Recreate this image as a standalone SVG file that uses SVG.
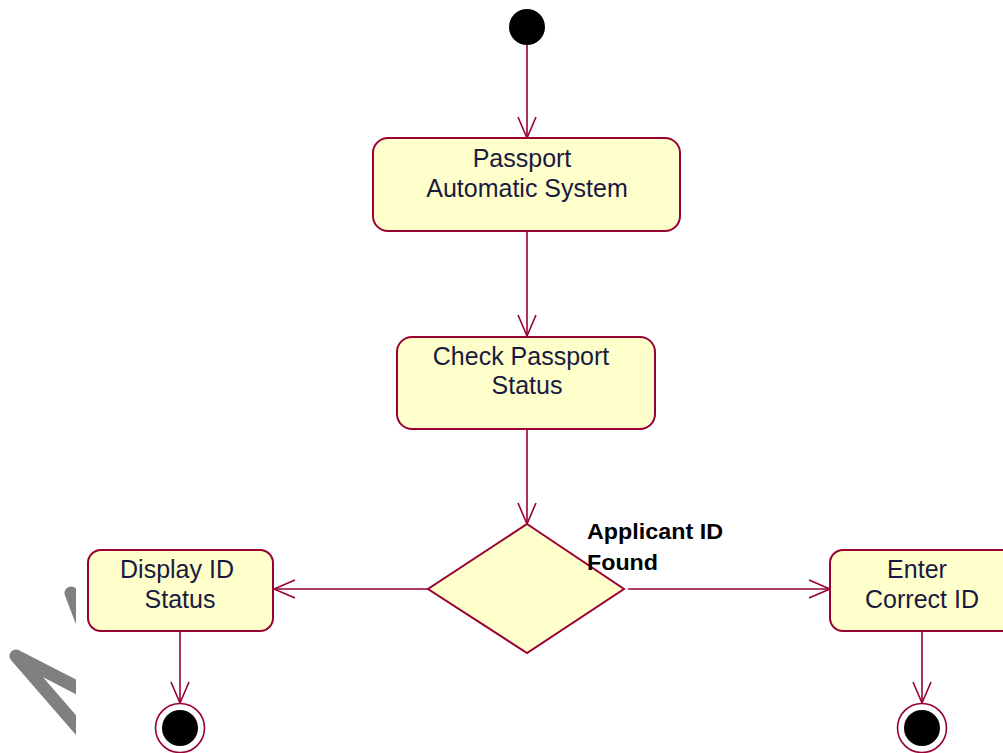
<svg xmlns="http://www.w3.org/2000/svg" width="1003" height="753" viewBox="0 0 1003 753">
<style>
.act{fill:#FFFFCC;stroke:#990033;stroke-width:2}
.lbl{font-family:"Liberation Sans",Arial,sans-serif;font-size:25px;fill:#1a1a40;text-anchor:middle}
.guard{font-family:"Liberation Sans",Arial,sans-serif;font-size:22px;font-weight:bold;fill:#000}
.conn{fill:none;stroke:#990033;stroke-width:1.6}
</style>
<defs>
<marker id="ah" markerUnits="userSpaceOnUse" markerWidth="30" markerHeight="30" viewBox="-25 -15 30 30" refX="0" refY="0" orient="auto">
<path d="M-21,-9 L0,0 L-21,9" fill="none" stroke="#990033" stroke-width="1.6"/>
</marker>
<clipPath id="wm"><rect x="0" y="0" width="76" height="753"/></clipPath>
</defs>
<rect width="1003" height="753" fill="#fff"/>
<g clip-path="url(#wm)" fill="none" stroke="#808080" stroke-width="13" stroke-linecap="round" stroke-linejoin="round">
<line x1="71" y1="593" x2="82" y2="622"/>
<polyline points="82,690 16,656 82,732"/>
</g>
<g id="connectors">
<line class="conn" x1="527" y1="45" x2="527" y2="138" marker-end="url(#ah)"/>
<line class="conn" x1="527" y1="231" x2="527" y2="336" marker-end="url(#ah)"/>
<line class="conn" x1="527" y1="429" x2="527" y2="524" marker-end="url(#ah)"/>
<line class="conn" x1="428" y1="589" x2="274" y2="589" marker-end="url(#ah)"/>
<line class="conn" x1="628" y1="589" x2="830" y2="589" marker-end="url(#ah)"/>
<line class="conn" x1="180" y1="631" x2="180" y2="703" marker-end="url(#ah)"/>
<line class="conn" x1="922" y1="631" x2="922" y2="703" marker-end="url(#ah)"/>
</g>
<g id="start"><circle cx="527" cy="27" r="18" fill="#000"/></g>
<g id="passport-system">
<rect class="act" x="373" y="138" width="307" height="93" rx="15"/>
<text class="lbl" x="522" y="167">Passport</text>
<text class="lbl" x="527" y="197">Automatic System</text>
</g>
<g id="check-status">
<rect class="act" x="397" y="337" width="258" height="92" rx="15"/>
<text class="lbl" x="521" y="365">Check Passport</text>
<text class="lbl" x="527" y="394">Status</text>
</g>
<g id="decision">
<polygon class="act" points="527,524 624,589 527,653 428,589" stroke-width="1.6"/>
<text class="guard" x="587" y="539" textLength="136" lengthAdjust="spacingAndGlyphs">Applicant ID</text>
<text class="guard" x="587" y="570" textLength="71" lengthAdjust="spacingAndGlyphs">Found</text>
</g>
<g id="display-status">
<rect class="act" x="88" y="550" width="185" height="81" rx="13"/>
<text class="lbl" x="177" y="578">Display ID</text>
<text class="lbl" x="180" y="608">Status</text>
</g>
<g id="enter-id">
<rect class="act" x="830" y="550" width="185" height="81" rx="13"/>
<text class="lbl" x="917" y="578">Enter</text>
<text class="lbl" x="922" y="608">Correct ID</text>
</g>
<g id="end-left">
<circle cx="180" cy="728" r="24.5" fill="#fff" stroke="#990033" stroke-width="1.6"/>
<circle cx="180" cy="728" r="18" fill="#000"/>
</g>
<g id="end-right">
<circle cx="922" cy="728" r="24.5" fill="#fff" stroke="#990033" stroke-width="1.6"/>
<circle cx="922" cy="728" r="18" fill="#000"/>
</g>
</svg>
